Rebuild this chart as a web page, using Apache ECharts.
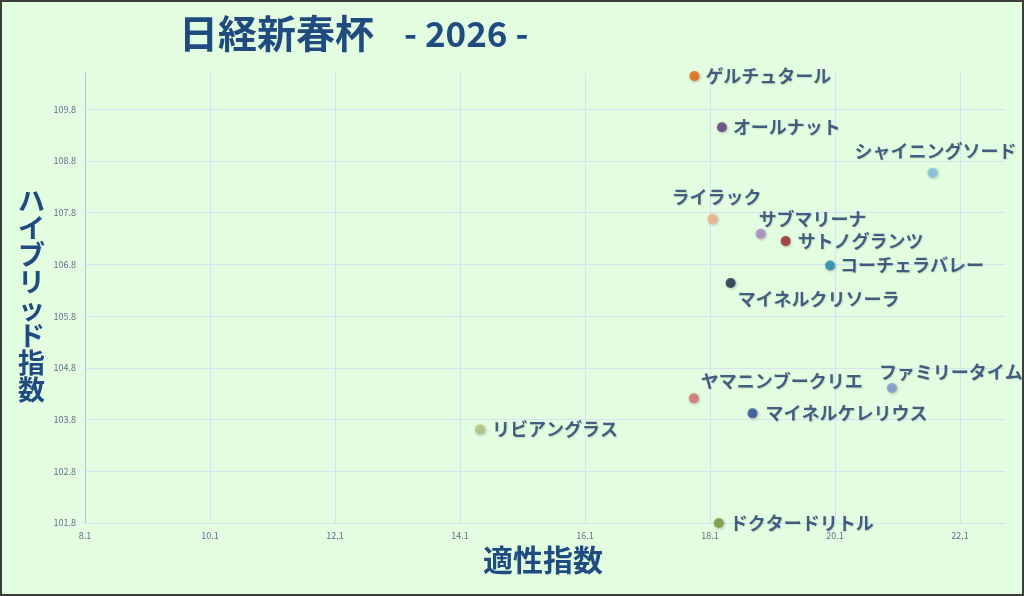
<!DOCTYPE html>
<html>
<head>
<meta charset="utf-8">
<script src="https://cdn.jsdelivr.net/npm/echarts@6/dist/echarts.min.js"></script>
<style>
  html, body { margin: 0; padding: 0; background: #e3fde0; }
  #chart { width: 1024px; height: 596px; }
</style>
</head>
<body>
<div id="chart"></div>
<script>
// 馬名と指数
var horses = ['ゲルチュタール', 'オールナット', 'シャイニングソード', 'ライラック', 'サブマリーナ',
    'サトノグランツ', 'コーチェラバレー', 'マイネルクリソーラ', 'ヤマニンブークリエ', 'ファミリータイム',
    'マイネルケレリウス', 'リビアングラス', 'ドクタードリトル'];
var tekisei = [17.85, 18.29, 21.66, 18.14, 18.91, 19.31, 20.02, 18.43, 17.84, 21.01, 18.78, 14.42, 18.24];
var hybrid = [110.44, 109.45, 108.57, 107.68, 107.39, 107.25, 106.78, 106.44, 104.21, 104.41, 103.92, 103.61, 101.80];

var dotColors = ['#e8650a', '#5e3a7c', '#7cc2dc', '#f5b184', '#a88bc2', '#a3262a', '#1f8aa8',
    '#1b2a48', '#d9706e', '#7f97d0', '#2d4f93', '#b3c47a', '#77993a'];
// ラベル位置の微調整 (右配置からのずれ)
var labelShift = [[1, 0], [1, 0], [-88, -22], [-51, -22], [-12, -15], [2, 0], [0, 0],
    [-3, 16], [-3, -17], [-23, -16], [3, 0], [2, 0], [1, 0]];

// 軸の目盛は 8.1 / 101.8 始まりなので原点をずらして描く
var xBase = 8.1, xTop = 22.82;
var yBase = 101.8, yTop = 110.5;

var myChart = echarts.init(document.getElementById('chart'));

var points = horses.map(function (name, i) {
    return {
        name: name,
        value: [tekisei[i] - xBase, hybrid[i] - yBase],
        itemStyle: { color: dotColors[i] },
        label: { offset: labelShift[i] }
    };
});

var txtColor = '#1c3b6b';
var font = '"Noto Sans CJK JP", "Noto Sans", sans-serif';

var option = {
    backgroundColor: '#e3fde0',
    animation: false,
    title: {
        text: '{a|日経新春杯}{gap|}{b|- 2026 -}',
        left: 174,
        top: 9,
        textStyle: {
            rich: {
                a: { color: '#1f4b80', fontSize: 39, fontWeight: 'bold', fontFamily: font },
                gap: { width: 30 },
                b: { color: '#1f4b80', fontSize: 35, fontWeight: 'bold', fontFamily: font }
            }
        }
    },
    grid: { left: 85, right: 19, top: 73, bottom: 73, containLabel: false, outerBoundsMode: 'none' },
    xAxis: {
        type: 'value',
        min: 0,
        max: xTop - xBase,
        interval: 2,
        axisLine: { show: true, lineStyle: { color: '#d3e2f2', width: 1 } },
        axisTick: { show: false },
        axisLabel: {
            color: '#5c7390', fontSize: 9, margin: 8, fontFamily: font,
            showMaxLabel: false,
            formatter: function (v) { return (v + xBase).toFixed(1); }
        },
        splitLine: { show: true, showMaxLine: false, lineStyle: { color: '#d5e2f4', width: 1 } }
    },
    yAxis: {
        type: 'value',
        min: 0,
        max: yTop - yBase,
        interval: 1,
        axisLine: { show: true, lineStyle: { color: '#a9c5ec', width: 1 } },
        axisTick: { show: false },
        axisLabel: {
            color: '#5c7390', fontSize: 9, margin: 9, fontFamily: font,
            showMaxLabel: false,
            formatter: function (v) { return (v + yBase).toFixed(1); }
        },
        splitLine: { show: true, showMaxLine: false, lineStyle: { color: '#d5e2f4', width: 1 } }
    },
    graphic: [
        {
            type: 'text',
            x: 483,
            y: 545,
            style: { text: '適性指数', fill: '#1f4b80', font: 'bold 30px ' + font }
        },
        {
            type: 'text',
            x: 18,
            y: 187,
            style: {
                text: 'ハイブリッド指数'.split('').join('\n'),
                fill: '#1f4b80', font: 'bold 27px ' + font, lineHeight: 27
            }
        },
        {
            type: 'rect',
            shape: { x: 1, y: 1, width: 1022, height: 594 },
            style: { fill: 'none', stroke: '#3d3d3d', lineWidth: 2 },
            z: 100
        }
    ],
    series: [
        {
            type: 'scatter',
            symbolSize: 10,
            itemStyle: { shadowBlur: 3, shadowColor: 'rgba(0,0,0,0.3)', shadowOffsetX: 1, shadowOffsetY: 1 },
            label: {
                show: true,
                position: 'right',
                distance: 5,
                formatter: '{b}',
                color: txtColor,
                fontSize: 18,
                fontWeight: 'bold',
                fontFamily: font,
                textShadowColor: 'rgba(0,0,0,0.15)',
                textShadowBlur: 1,
                textShadowOffsetX: 1,
                textShadowOffsetY: 1
            },
            emphasis: { disabled: true },
            data: points
        }
    ]
};

myChart.setOption(option);
</script>
</body>
</html>
